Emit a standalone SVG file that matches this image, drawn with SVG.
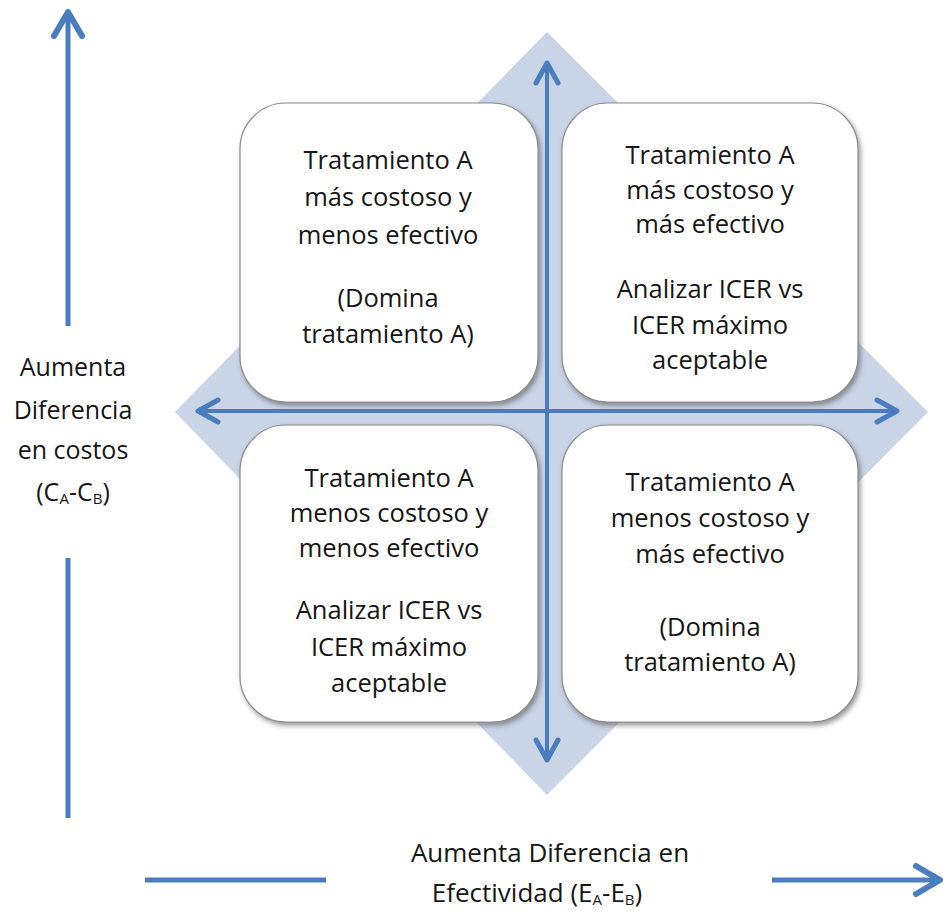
<svg xmlns="http://www.w3.org/2000/svg" width="946" height="911" viewBox="0 0 946 911">
  <defs>
    <filter id="shadow" x="-10%" y="-10%" width="125%" height="125%">
      <feDropShadow dx="2" dy="3" stdDeviation="2.5" flood-color="#555" flood-opacity="0.6"/>
    </filter>
    <marker id="head" markerUnits="userSpaceOnUse" viewBox="-26 -16 32 32" markerWidth="32" markerHeight="32" refX="0" refY="0" orient="auto">
      <path d="M-20,-11 L0,0 L-20,11" fill="none" stroke="#4a7dbf" stroke-width="5" stroke-linecap="round" stroke-linejoin="round"/>
    </marker>
    <marker id="headBig" markerUnits="userSpaceOnUse" viewBox="-30 -18 36 36" markerWidth="36" markerHeight="36" refX="0" refY="0" orient="auto">
      <path d="M-24,-14 L0,0 L-24,14" fill="none" stroke="#4a7dbf" stroke-width="6" stroke-linecap="round" stroke-linejoin="round"/>
    </marker>
  </defs>
  <style>
    .box { fill: #ffffff; stroke: #8c8c8c; stroke-width: 1.2; filter: url(#shadow); }
    .t { font-family: "Open Sans", "Liberation Sans", Arial, sans-serif; font-size: 25.5px; fill: #161616; text-anchor: middle; }
    .lbl { font-size: 25px; }
    .lblb { font-size: 26px; }
    .ax { stroke: #4a7dbf; stroke-width: 4; fill: none; }
    .axo { stroke: #4a7dbf; stroke-width: 5; fill: none; }
    .sub { font-size: 15px; }
  </style>

  <rect width="946" height="911" fill="#ffffff"/>

  <!-- background diamond behind the quadrants -->
  <polygon id="diamond" points="547,32 928,412 547,795 175,412" fill="#c9d4e7"/>

  <!-- quadrant boxes -->
  <g id="q-top-left">
    <rect class="box" x="240" y="103" width="298" height="299" rx="46"/>
    <text class="t"><tspan x="388" y="169">Tratamiento A</tspan><tspan x="388" y="206">más costoso y</tspan><tspan x="388" y="244">menos efectivo</tspan><tspan x="388" y="307">(Domina</tspan><tspan x="388" y="343">tratamiento A)</tspan></text>
  </g>
  <g id="q-top-right">
    <rect class="box" x="562" y="103" width="296" height="299" rx="46"/>
    <text class="t"><tspan x="710" y="164">Tratamiento A</tspan><tspan x="710" y="199">más costoso y</tspan><tspan x="710" y="233">más efectivo</tspan><tspan x="710" y="298">Analizar ICER vs</tspan><tspan x="710" y="334">ICER máximo</tspan><tspan x="710" y="369">aceptable</tspan></text>
  </g>
  <g id="q-bottom-left">
    <rect class="box" x="240" y="425" width="298" height="297" rx="46"/>
    <text class="t"><tspan x="389" y="487">Tratamiento A</tspan><tspan x="389" y="522">menos costoso y</tspan><tspan x="389" y="557">menos efectivo</tspan><tspan x="389" y="619">Analizar ICER vs</tspan><tspan x="389" y="656">ICER máximo</tspan><tspan x="389" y="692">aceptable</tspan></text>
  </g>
  <g id="q-bottom-right">
    <rect class="box" x="562" y="425" width="296" height="297" rx="46"/>
    <text class="t"><tspan x="710" y="491">Tratamiento A</tspan><tspan x="710" y="527">menos costoso y</tspan><tspan x="710" y="563">más efectivo</tspan><tspan x="710" y="636">(Domina</tspan><tspan x="710" y="671">tratamiento A)</tspan></text>
  </g>

  <!-- axis arrows -->
  <g id="connectors">
    <line class="ax" x1="547" y1="411" x2="547" y2="63" marker-end="url(#head)"/>
    <line class="ax" x1="547" y1="411" x2="547" y2="760" marker-end="url(#head)"/>
    <line class="ax" x1="547" y1="411" x2="198" y2="411" marker-end="url(#head)"/>
    <line class="ax" x1="547" y1="411" x2="897" y2="411" marker-end="url(#head)"/>

    <line class="axo" x1="68" y1="326" x2="68" y2="12" marker-end="url(#headBig)"/>
    <line class="axo" x1="68" y1="558" x2="68" y2="818"/>
    <line class="axo" x1="145" y1="880" x2="326" y2="880"/>
    <line class="axo" x1="772" y1="880" x2="940" y2="880" marker-end="url(#headBig)"/>
  </g>

  <!-- axis labels -->
  <g id="label-cost">
    <text class="t lbl"><tspan x="73" y="376">Aumenta</tspan><tspan x="73" y="419">Diferencia</tspan><tspan x="73" y="459">en costos</tspan><tspan x="73" y="501">(C<tspan class="sub" dy="3">A</tspan><tspan dy="-3">-C</tspan><tspan class="sub" dy="3">B</tspan><tspan dy="-3">)</tspan></tspan></text>
  </g>
  <g id="label-effect">
    <text class="t lblb"><tspan x="550" y="862">Aumenta Diferencia en</tspan><tspan x="537" y="902">Efectividad (E<tspan class="sub" dy="3">A</tspan><tspan dy="-3">-E</tspan><tspan class="sub" dy="3">B</tspan><tspan dy="-3">)</tspan></tspan></text>
  </g>
</svg>
